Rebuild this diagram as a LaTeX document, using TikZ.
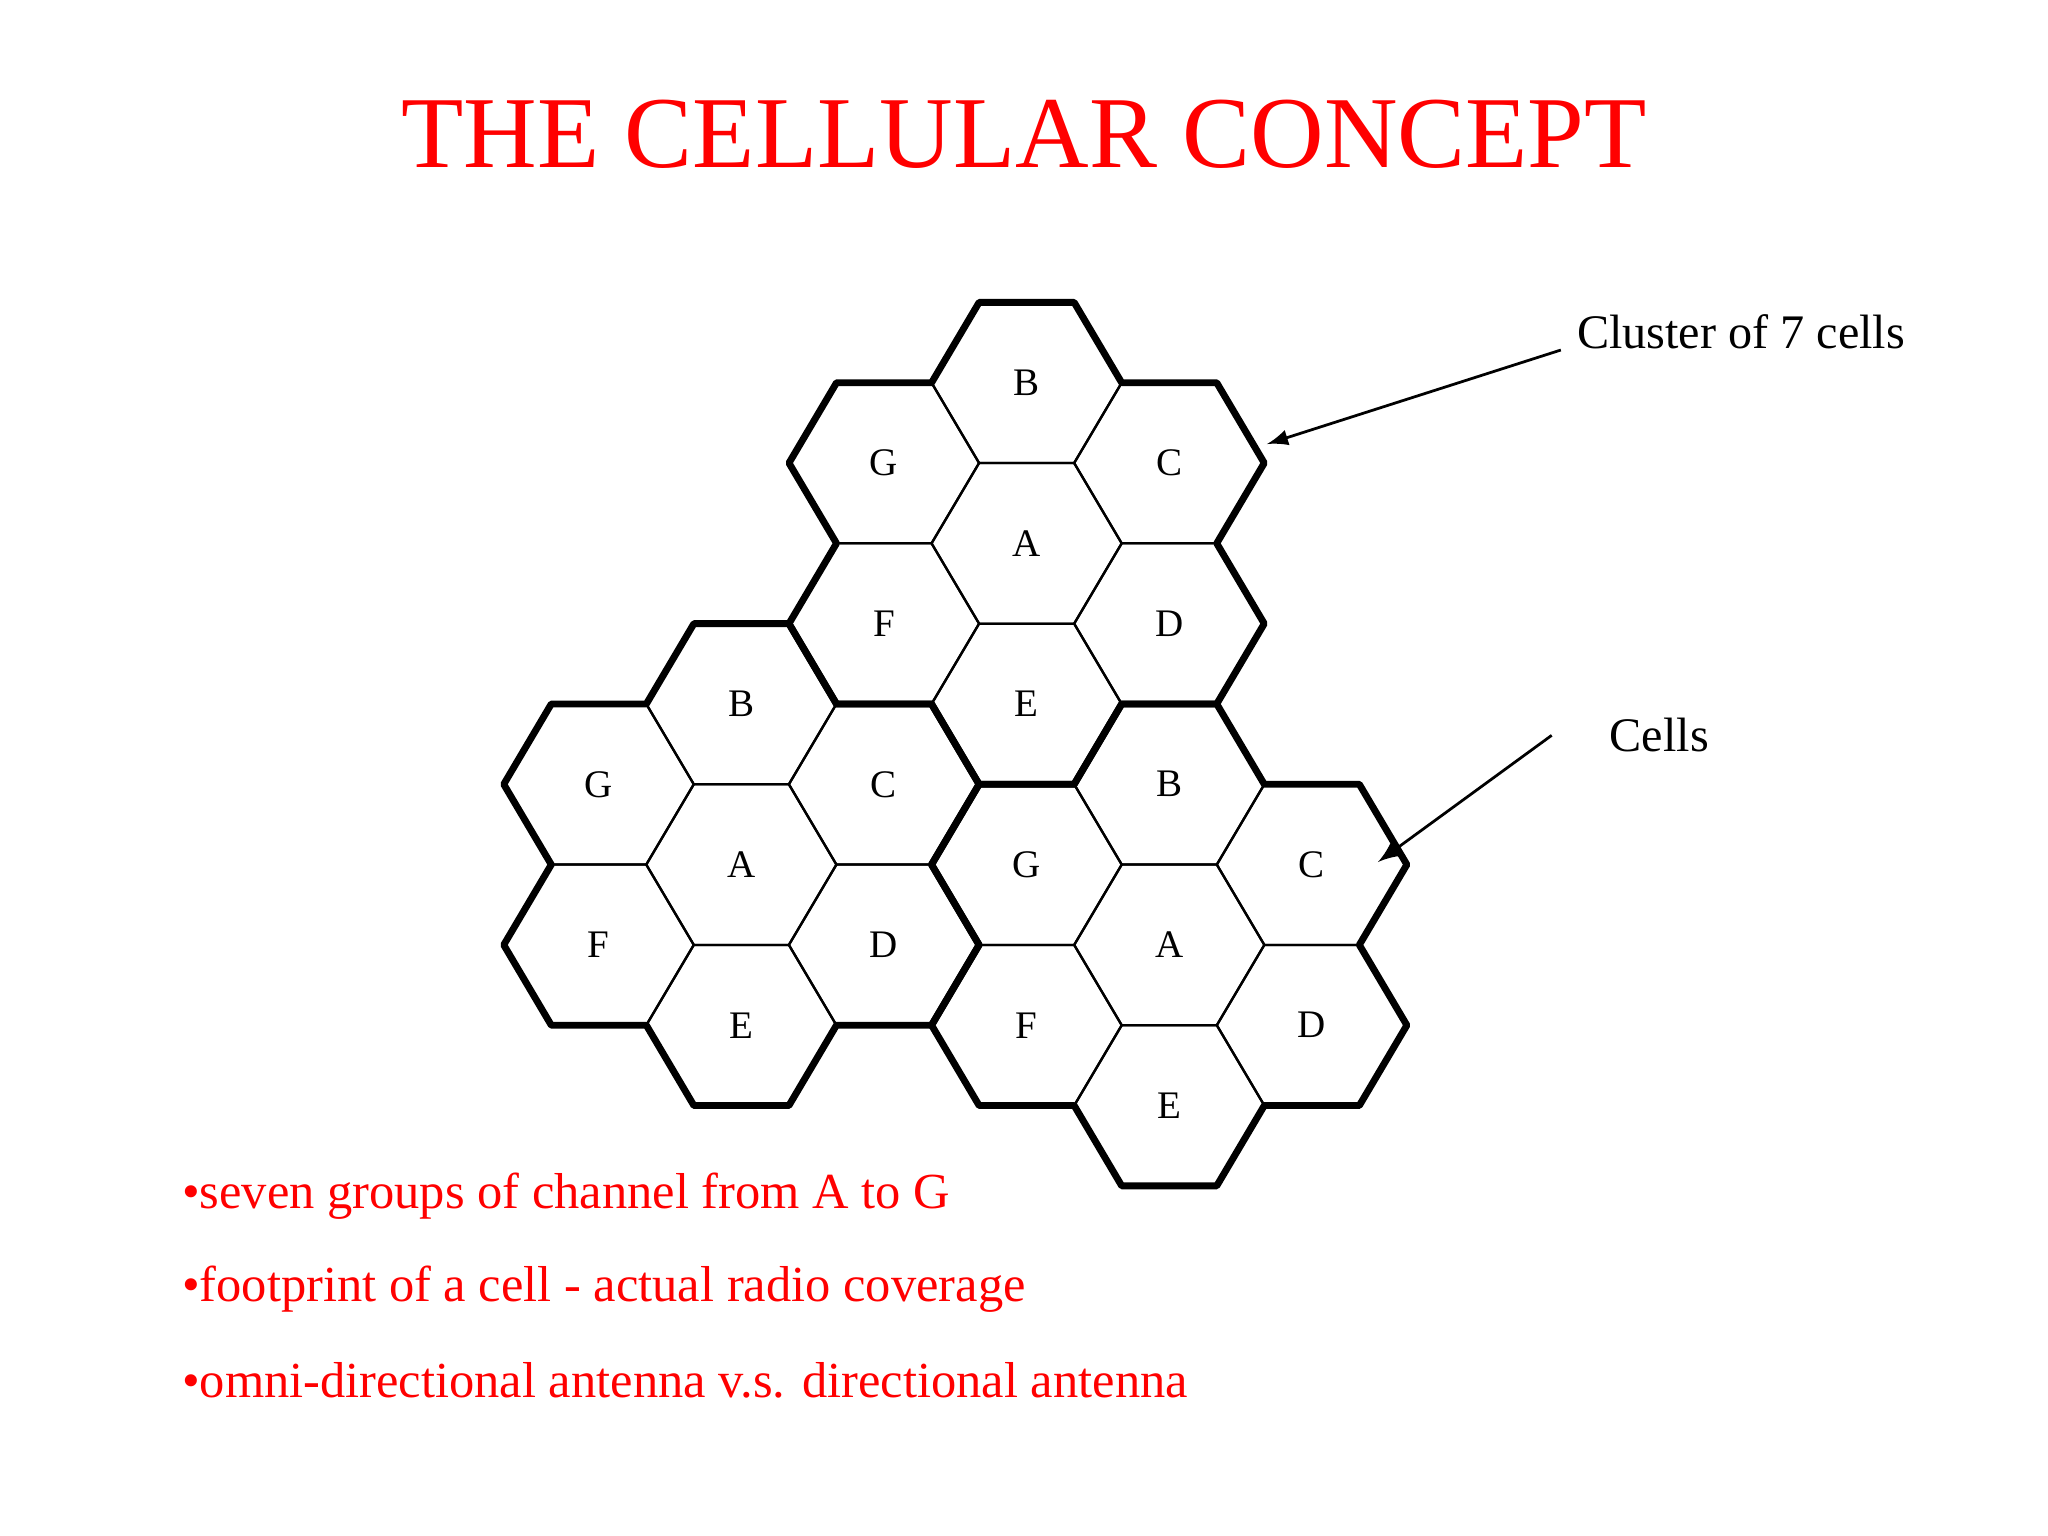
\documentclass[tikz,border=0pt]{standalone}
\usepackage{fontspec}
\setmainfont{Liberation Serif}
\usetikzlibrary{calc}
\begin{document}
\begin{tikzpicture}[
  thinhex/.style={draw=black,line width=0.5pt},
  thickhex/.style={draw=black,line width=1.5pt,line join=round},
  lab/.style={font=\fontsize{8.5}{9}\selectfont},
  red text/.style={text=red,font=\fontsize{11}{12}\selectfont,anchor=west},
  blk text/.style={text=black,font=\fontsize{10.5}{12}\selectfont,anchor=west}]
\useasboundingbox[fill=white] (0,0) rectangle (15.68,-11.76);
\def\R{0.71}
\def\S{1.2298}
\begin{scope}[shift={(7.86,-4.16)},xscale=1.025]
\coordinate (c1) at (0,0);
\coordinate (c2) at (-2.13,-2.4596);
\coordinate (c3) at (1.065,-3.0745);
\foreach \c/\n in {c1/a,c2/b,c3/c}{
  \foreach \ang/\L in {90/B,150/G,30/C,210/F,330/D,270/E}{
    \coordinate (\n\L) at ($(\c)+(\ang:\S)$);
  }
  \coordinate (\n A) at (\c);
  \foreach \L in {A,B,C,D,E,F,G}{
    \draw[thinhex] ($(\n\L)+(0:\R)$) \foreach \t in {60,120,...,300}{ -- ($(\n\L)+(\t:\R)$)} -- cycle;
    \node[lab] (lab\n\L) at (\n\L) {\L};
  }
  \draw[thickhex] ($(\c)+(330:\S)+(0:\R)$)
    \foreach \k in {0,...,5}{ \foreach \a in {-90,-30,30}{ -- ($(\c)+({30+60*\k}:\S)+({30+60*\k+\a}:\R)$) } } -- cycle;
}
\end{scope}
\node[text=red,font=\fontsize{22.2}{26}\selectfont] (title) at (7.84,-1.03) {THE CELLULAR CONCEPT};
\node[blk text] (cl) at (11.95,-2.54) {Cluster of 7 cells};
\node[blk text] (ce) at (12.2,-5.63) {Cells};
\coordinate (clA) at (9.70,-3.40);
\coordinate (ceA) at (10.55,-6.60);
\draw[-latex,line width=0.6pt] (cl.west) ++(0,-0.14) -- (clA);
\draw[-latex,line width=0.6pt] (ce.west) ++(-0.32,0) -- (ceA);
\node[red text] (b1) at (1.27,-9.16) {•seven groups of channel from A to G};
\node[red text] (b2) at (1.27,-9.87) {•footprint of a cell - actual radio coverage};
\node[red text] (b3) at (1.27,-10.57) {•omni-directional antenna v.s. directional antenna};
\end{tikzpicture}
\end{document}
